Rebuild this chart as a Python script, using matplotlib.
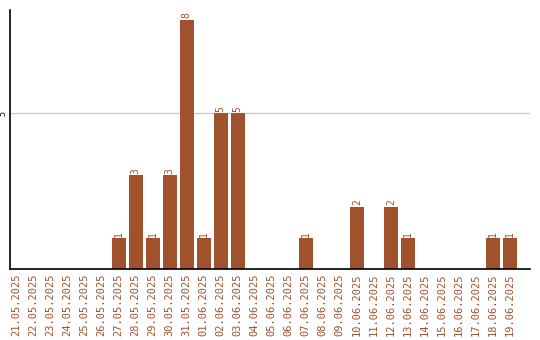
import matplotlib
matplotlib.use('Agg')
import matplotlib.pyplot as plt

dates = ['21.05.2025', '22.05.2025', '23.05.2025', '24.05.2025', '25.05.2025',
         '26.05.2025', '27.05.2025', '28.05.2025', '29.05.2025', '30.05.2025',
         '31.05.2025', '01.06.2025', '02.06.2025', '03.06.2025', '04.06.2025',
         '05.06.2025', '06.06.2025', '07.06.2025', '08.06.2025', '09.06.2025',
         '10.06.2025', '11.06.2025', '12.06.2025', '13.06.2025', '14.06.2025',
         '15.06.2025', '16.06.2025', '17.06.2025', '18.06.2025', '19.06.2025']
counts = [0, 0, 0, 0, 0, 0, 1, 3, 1, 3, 8, 1, 5, 5, 0,
          0, 0, 1, 0, 0, 2, 0, 2, 1, 0, 0, 0, 0, 1, 1]

COL = '#A0522D'
fig = plt.figure(figsize=(5.4, 3.4), dpi=100)
ax = fig.add_axes([0.0194, 0.209, 0.963, 0.761])
x = range(len(dates))
ax.bar(x, counts, width=0.82, color=COL, zorder=2)
for i, v in enumerate(counts):
    if v > 0:
        ax.text(i, v + 0.04, str(v), rotation=90, ha='center', va='bottom',
                color=COL, fontsize=7, family='DejaVu Sans Mono')
ax.set_xlim(-0.35, 30.2)
ax.set_ylim(0, 8.3)
ax.set_yticks([5])
ax.set_yticklabels(['5'], rotation=90, va='center', fontsize=6, family='DejaVu Sans Mono')
ax.set_xticks(list(x))
ax.set_xticklabels(dates, rotation=90, color=COL, fontsize=7.5, family='DejaVu Sans Mono')
ax.tick_params(length=0, pad=3)
ax.tick_params(axis='y', pad=2)
ax.grid(axis='y', color='#cccccc', lw=1, zorder=0)
for s in ['top', 'right']:
    ax.spines[s].set_visible(False)
ax.spines['left'].set_linewidth(1.2)
ax.spines['bottom'].set_linewidth(1.2)
fig.savefig('out.png', dpi=100)
